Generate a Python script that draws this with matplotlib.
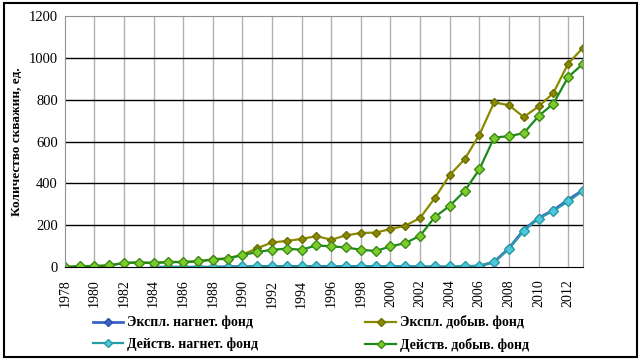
import numpy as np
import matplotlib
matplotlib.use("Agg")
import matplotlib.pyplot as plt

plt.rcParams['font.family'] = ['Liberation Serif', 'DejaVu Serif']

years = list(range(1978, 2014))
inj_years = list(range(1984, 2014))

expl_prod = [0, 5, 5, 8, 20, 22, 20, 25, 25, 28, 38, 42, 60, 90, 118, 125, 135, 148,
             131, 152, 163, 165, 182, 198, 235, 331, 440, 515, 632, 787, 774, 717, 768,
             832, 973, 1048]
act_prod = [0, 5, 5, 8, 20, 22, 20, 24, 24, 27, 36, 40, 58, 72, 83, 88, 83, 104,
            99, 94, 83, 77, 99, 115, 150, 240, 293, 363, 467, 619, 626, 640, 722,
            781, 909, 971]
expl_inj = [0, 0, 0, 0, 0, 2, 2, 3, 3, 3, 3, 3, 3, 3, 3, 3, 3, 3, 0, 0, 0, 3, 5,
            25, 90, 178, 235, 272, 322, 368]
act_inj = [0, 0, 0, 0, 0, 2, 3, 4, 4, 4, 4, 4, 4, 4, 4, 4, 4, 4, 3, 3, 3, 4, 6,
           24, 88, 173, 232, 269, 314, 365]

labels = ["Экспл. нагнет. фонд", "Экспл. добыв. фонд",
          "Действ. нагнет. фонд", "Действ. добыв. фонд"]

fig = plt.figure(figsize=(6.41, 3.6), dpi=100)
ax = fig.add_axes([0.101, 0.258, 0.8085, 0.6975])

l1, = ax.plot(inj_years, expl_inj, color='#3a62c8', marker='D', ms=4.5,
              mfc='#3a62c8', mec='#2c4fa8', lw=2)
l2, = ax.plot(years, expl_prod, color='#8a8a00', marker='D', ms=4.5,
              mfc='#8a8a00', mec='#6e6e00', lw=1.6)
l3, = ax.plot(inj_years, act_inj, color='#2a9aa6', marker='D', ms=5,
              mfc='#4cc8dc', mec='#2a9aa6', lw=1.6)
l4, = ax.plot(years, act_prod, color='#1a8a1a', marker='D', ms=5,
              mfc='#7ccc2c', mec='#3c8a14', lw=1.6)

ax.set_xlim(1978, 2013)
ax.set_ylim(0, 1200)
ax.set_xticks(range(1978, 2013, 2))
ax.set_xticklabels([str(y) for y in range(1978, 2013, 2)], rotation=90, fontsize=10)
ax.set_yticks(range(0, 1201, 200))
ax.set_yticklabels([str(v) for v in range(0, 1201, 200)], fontsize=10.5)
ax.tick_params(axis='x', length=0, pad=9)
ax.tick_params(axis='y', length=0, pad=5)

for x in range(1980, 2013, 2):
    ax.axvline(x, color='#b0b0b0', lw=1, zorder=0)
for v in range(200, 1001, 200):
    ax.axhline(v, color='black', lw=1, zorder=0)

for s in ['top', 'right', 'left']:
    ax.spines[s].set_color('#909090')
ax.spines['bottom'].set_color('black')

ax.set_ylabel("Количество скважин, ед.", fontsize=9.5, fontweight='bold', labelpad=4)

# column-first order: left column = нагнет., right column = добыв.
fig.legend([l1, l3, l2, l4], [labels[0], labels[2], labels[1], labels[3]],
           ncol=2, loc='lower left', bbox_to_anchor=(0.125, -0.012), frameon=False,
           prop={'weight': 'bold', 'size': 10}, handlelength=2.2, markerscale=0.8,
           handletextpad=0.3, columnspacing=7.7, labelspacing=0.6)

fig.patches.append(plt.Rectangle((0.006, 0.008), 0.988, 0.984, transform=fig.transFigure,
                                 fill=False, edgecolor='black', lw=1.5))

fig.savefig("out.png", dpi=100)
